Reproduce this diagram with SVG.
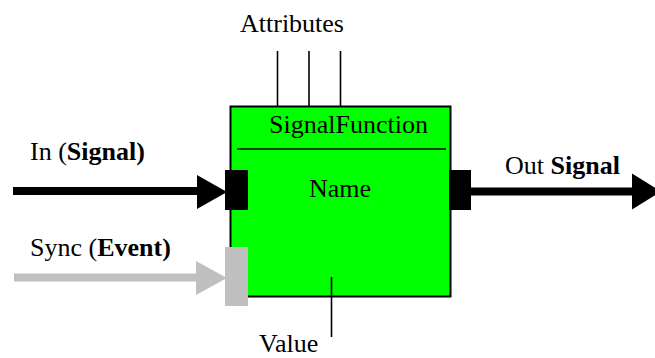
<svg xmlns="http://www.w3.org/2000/svg" width="655" height="358" viewBox="0 0 655 358">
<style>
text{font-family:"Liberation Serif","Times New Roman",serif;font-size:26px;fill:#000}
.b{font-weight:bold}
.thin{stroke:#000;stroke-width:1.6;fill:none}
.sig{stroke:#000;stroke-width:8;fill:none}
.evt{stroke:#c0c0c0;stroke-width:8;fill:none}
</style>
<rect width="655" height="358" fill="#fff"/>
<g id="connectors">
<line class="thin" x1="277.5" y1="51" x2="277.5" y2="106"/>
<line class="thin" x1="309" y1="51" x2="309" y2="106"/>
<line class="thin" x1="340.5" y1="51" x2="340.5" y2="106"/>
<line class="sig" x1="13" y1="191" x2="200" y2="191"/>
<polygon points="197,175 227,192 197,209" fill="#000"/>
<line class="evt" x1="14" y1="277.5" x2="200" y2="277.5"/>
<polygon points="196,261 227,278 196,295" fill="#c0c0c0"/>
<line class="sig" x1="470" y1="191.5" x2="636" y2="191.5"/>
<polygon points="632,173.5 661,191.5 632,209.5" fill="#000"/>
</g>
<g id="signalfunction">
<rect x="230.5" y="106.5" width="220" height="190" fill="#00ff00" stroke="#000" stroke-width="2"/>
<line class="thin" x1="237" y1="149" x2="446" y2="149"/>
<text x="269" y="133">SignalFunction</text>
<text x="309" y="197">Name</text>
<line class="thin" x1="331.5" y1="277" x2="331.5" y2="337"/>
</g>
<g id="port-in"><rect x="225" y="170" width="23" height="40" fill="#000"/></g>
<g id="port-sync"><rect x="225" y="247" width="23" height="59" fill="#c0c0c0"/></g>
<g id="port-out"><rect x="449" y="170" width="22" height="40" fill="#000"/></g>
<g id="labels">
<text x="240" y="32">Attributes</text>
<text x="30" y="160">In (<tspan class="b">Signal)</tspan></text>
<text x="30" y="256">Sync (<tspan class="b">Event)</tspan></text>
<text x="505" y="174">Out <tspan class="b">Signal</tspan></text>
<text x="259" y="352">Value</text>
</g>
</svg>
